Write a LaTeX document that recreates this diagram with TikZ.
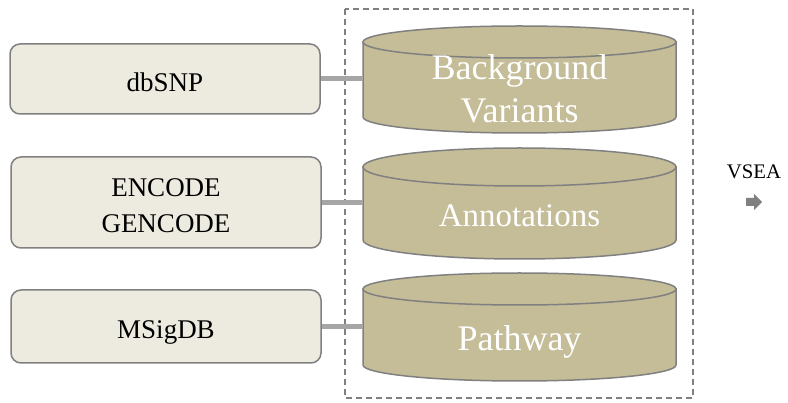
\documentclass[tikz,border=0pt]{standalone}
\usepackage{fontspec}
\setmainfont{Liberation Serif}
\definecolor{boxfill}{HTML}{EDEBE0}
\definecolor{edgegray}{HTML}{808080}
\definecolor{cylfill}{HTML}{C4BD97}
\definecolor{linkgray}{HTML}{A6A6A6}
\tikzset{
  srcbox/.style={draw=edgegray, line width=1.5pt, fill=boxfill, rounded corners=10pt,
    minimum width=310pt, minimum height=70pt, inner sep=0pt, align=center,
    font=\fontsize{27}{36}\selectfont},
  cyltext/.style={minimum width=313pt, inner sep=0pt, align=center, text=white},
  cylshape/.style={draw=edgegray, line width=1.5pt, fill=cylfill},
  link/.style={draw=linkgray, line width=5pt},
  frame/.style={draw=edgegray, line width=1.5pt, dash pattern=on 6pt off 4pt},
}
\begin{document}
\begin{tikzpicture}[x=1pt,y=-1pt]
\useasboundingbox (0,0) rectangle (788,403);
% dashed frame
\draw[frame] (345,9) rectangle (693,398);
% cylinders: top t, bottom b, radius r
\foreach \t/\b/\r in {42/117/16, 167/240/19, 289/365/16}{
  \path[cylshape] (363,\t) -- (363,\b)
     arc[start angle=180, end angle=0, x radius=156.5, y radius=\r] -- (676,\t) -- cycle;
  \path[cylshape] (519.5,\t) ellipse [x radius=156.5, y radius=\r];
}
% cylinder labels
\node[cyltext, font=\fontsize{36}{43}\selectfont] (c1) at (519.5,89) {Background\\Variants};
\node[cyltext, font=\fontsize{33}{40}\selectfont] (c2) at (519.5,215.7) {Annotations};
\node[cyltext, font=\fontsize{36}{43}\selectfont] (c3) at (519.5,341.6) {Pathway};
% source boxes
\node[srcbox, minimum height=70pt] (b1) at (165,79) {\rule{0pt}{26pt}dbSNP};
\node[srcbox, minimum height=91pt] (b2) at (166,202.5) {\rule{0pt}{25pt}ENCODE\\GENCODE};
\node[srcbox, minimum height=73pt] (b3) at (166,326.5) {\rule{0pt}{29pt}MSigDB};
% connectors
\path[link] (b1.east) -- (b1.east -| c1.west);
\path[link] (b2.east) -- (b2.east -| c2.west);
\path[link] (b3.east) -- (b3.east -| c3.west);
% VSEA
\node[font=\fontsize{20.7}{25}\selectfont, inner sep=0pt, anchor=base] (vsea) at (754,179) {VSEA};
\fill[edgegray] (746,198) -- (754,198) -- (754,194) -- (762,202) -- (754,210) -- (754,206) -- (746,206) -- cycle;
\end{tikzpicture}
\end{document}
